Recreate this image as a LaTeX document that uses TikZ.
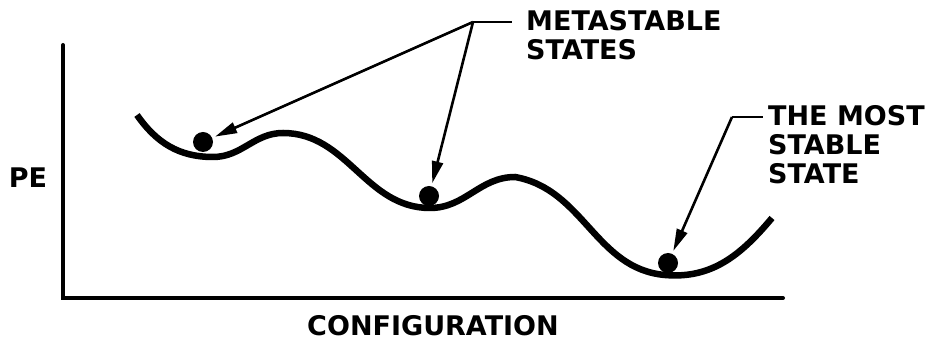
\documentclass[tikz,border=0pt]{standalone}
\usepackage{fontspec}
\setmainfont{DejaVu Sans}
\usetikzlibrary{arrows.meta}

\begin{document}
\begin{tikzpicture}[x=1pt, y=1pt,
    axis/.style={line width=4pt, line cap=round},
    landscape/.style={line width=6.5pt},
    pointer/.style={line width=2.6pt, -{Triangle[length=22pt, width=11pt]}, shorten >=3pt},
    leader/.style={line width=2.6pt},
    ball/.style={circle, fill=black, minimum size=20pt, inner sep=0pt},
    lbl/.style={font=\bfseries\fontsize{27}{29}\selectfont, inner sep=0pt, align=left}]

\useasboundingbox (0,0) rectangle (939,342);

% 1. AXES
\coordinate (top) at (63,297);
\coordinate (origin) at (63,44);
\coordinate (xend) at (783,44);
\draw[axis] (top) -- (origin) -- (xend);
\node[lbl] (pe) at (28,164) {PE};
\node[lbl] (config) at (433,16) {CONFIGURATION};

% 2. ENERGY CURVE
\draw[landscape] (137,227) to[out=-55, in=180] (213,185) to[out=0, in=180] (283,209)
    to[out=0, in=180] (430,134) to[out=0, in=180] (515,165)
    to[out=-10, in=175] (665,67) to[out=-5, in=-130] (772,124);

% Balls
\node[ball] (left) at (203,200) {};
\node[ball] (middle) at (429,146) {};
\node[ball] (right) at (668,79) {};

% 3. LABELS AND POINTERS
\node[lbl, anchor=north west] (meta) at (526,332) {METASTABLE\\STATES};
\coordinate (metafork) at (473,320);
\draw[leader] (metafork) -- ([xshift=-14pt]meta.west |- metafork);
\draw[pointer] (metafork) -- (left);
\draw[pointer] (metafork) -- (middle);

\node[lbl, anchor=north west] (stable) at (768,237) {THE MOST\\STABLE\\STATE};
\coordinate (stablefork) at (732,225);
\draw[leader] (stablefork) -- ([xshift=-5pt]stable.west |- stablefork);
\draw[pointer] (stablefork) -- (right);

\end{tikzpicture}
\end{document}
